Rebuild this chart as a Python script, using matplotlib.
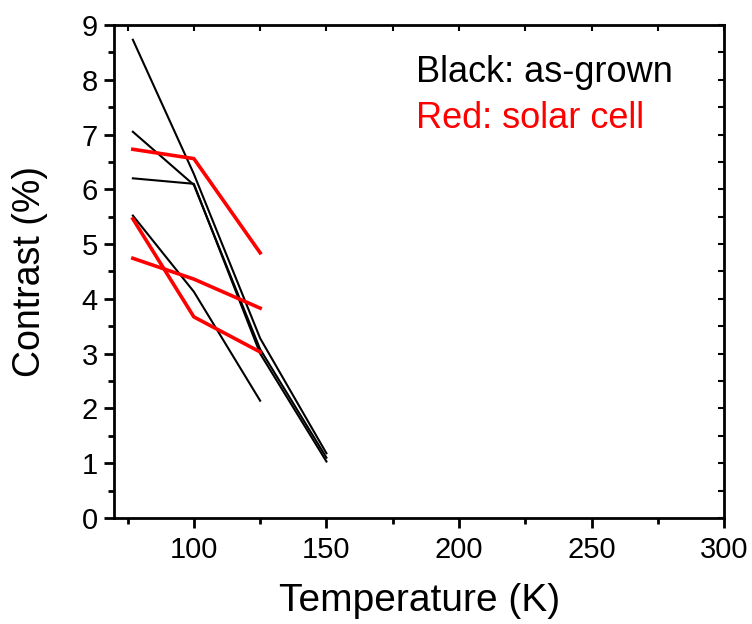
import matplotlib
matplotlib.use("Agg")
import matplotlib.pyplot as plt
from matplotlib.ticker import MultipleLocator

plt.rcParams['font.family'] = ['Liberation Sans', 'DejaVu Sans']

temps = [77, 100, 125, 150]

# as-grown samples (black)
black_1 = [8.73, 6.28, 3.28, 1.18]
black_2 = [7.05, 6.08, 3.08, 1.10]
black_3 = [6.20, 6.10, 3.00, 1.03]
black_4 = [5.52, 4.13, 2.14]

# solar cell samples (red)
red_1 = [6.73, 6.56, 4.84]
red_2 = [5.46, 3.67, 3.03]
red_3 = [4.74, 4.36, 3.83]

fig = plt.figure(figsize=(7.52, 6.24), dpi=100)
ax = fig.add_axes([0.152, 0.170, 0.811, 0.790])

for ys in [black_1, black_2, black_3, black_4]:
    ax.plot(temps[:len(ys)], ys, color='black', lw=1.5)
for ys in [red_1, red_2, red_3]:
    ax.plot(temps[:len(ys)], ys, color='red', lw=2.6)

ax.set_xlim(70, 300)
ax.set_ylim(0, 9)
ax.xaxis.set_major_locator(MultipleLocator(50))
ax.xaxis.set_minor_locator(MultipleLocator(25))
ax.yaxis.set_major_locator(MultipleLocator(1))
ax.yaxis.set_minor_locator(MultipleLocator(0.5))

for s in ax.spines.values():
    s.set_linewidth(2)

ax.tick_params(which='both', direction='out', width=2, labelsize=21)
ax.tick_params(axis='x', pad=6)
ax.tick_params(axis='y', pad=5)
ax.tick_params(which='major', length=7)
ax.tick_params(which='minor', length=4)

# inward ticks on top and right spines
sec_x = ax.secondary_xaxis('top')
sec_x.xaxis.set_major_locator(MultipleLocator(50))
sec_x.xaxis.set_minor_locator(MultipleLocator(25))
sec_x.tick_params(which='both', direction='in', length=4, width=1.5, labeltop=False)
sec_y = ax.secondary_yaxis('right')
sec_y.yaxis.set_major_locator(MultipleLocator(1))
sec_y.yaxis.set_minor_locator(MultipleLocator(0.5))
sec_y.tick_params(which='both', direction='in', length=4, width=1.5, labelright=False)

ax.set_xlabel('Temperature (K)', fontsize=28, labelpad=14)
ax.set_ylabel('Contrast (%)', fontsize=27, labelpad=24)

ax.text(0.495, 0.885, 'Black: as-grown', transform=ax.transAxes, fontsize=26, color='black')
ax.text(0.495, 0.79, 'Red: solar cell', transform=ax.transAxes, fontsize=26, color='red')

fig.savefig('out.png', dpi=100)
